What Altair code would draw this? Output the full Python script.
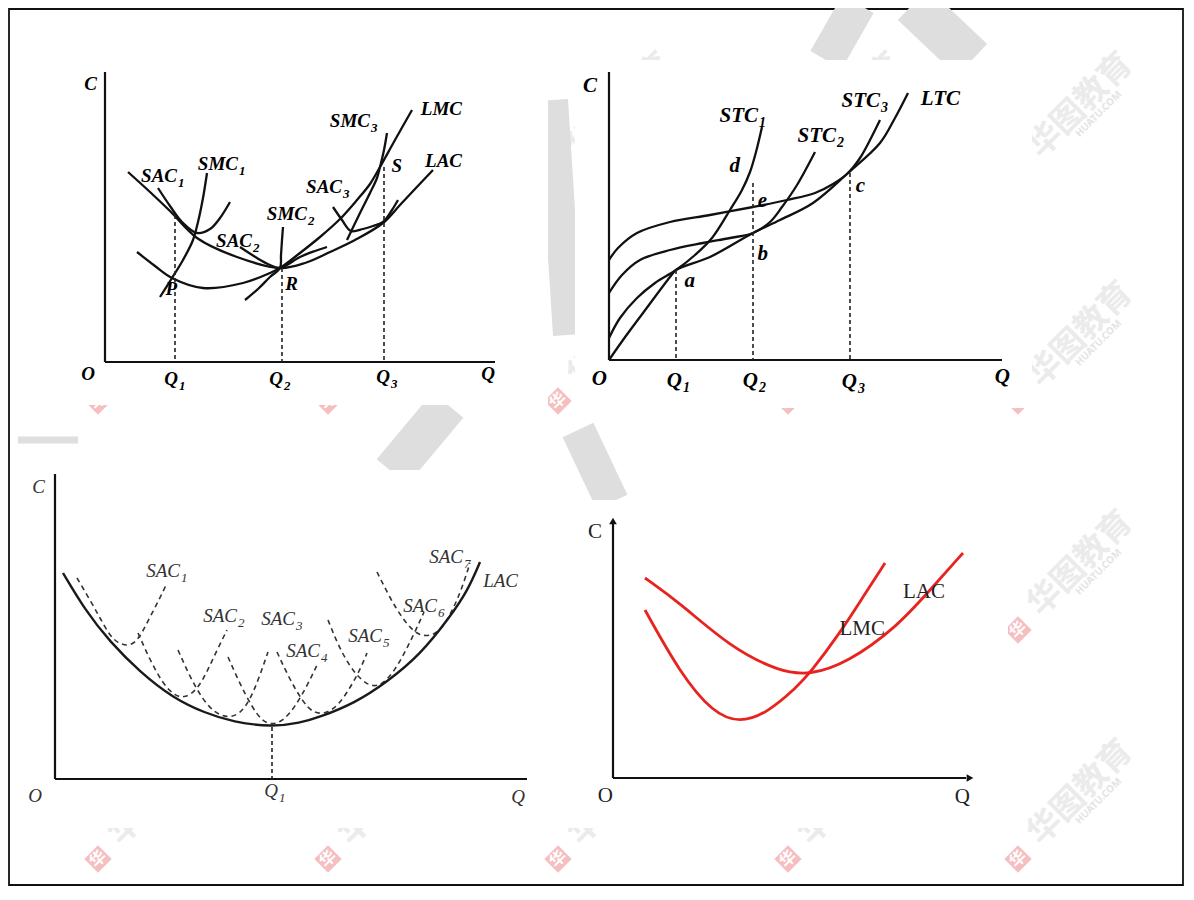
import altair as alt
import pandas as pd

W, H = 1176, 878          # plot area (page margin 8px) -> data units equal screen pixels
XD = [8, 8 + W]
YD = [8, 8 + H]

# ---------------- Panel 1 : LAC / LMC with SAC / SMC ----------------
p1_lac_x = [128, 150, 170, 197, 237, 280, 305, 330, 355, 383, 400, 415, 433]
p1_lac_y = [172, 192, 211, 238, 257, 268, 263, 252, 240, 223, 205, 189, 170]
p1_lmc_x = [137, 155, 172, 203, 243, 270, 280, 300, 320, 340, 357, 370, 380, 395, 412]
p1_lmc_y = [252, 266, 278, 288, 283, 273, 268, 253, 237, 219, 200, 184, 167, 140, 110]
p1_sac1_x = [158, 170, 182, 197, 210, 220, 230]
p1_sac1_y = [188, 206, 222, 233, 229, 218, 202]
p1_smc1_x = [160, 172, 183, 193, 198, 203, 207]
p1_smc1_y = [297, 278, 260, 240, 222, 198, 173]
p1_sac2_x = [240, 257, 270, 280, 300, 315, 327]
p1_sac2_y = [247, 258, 265, 268, 257, 251, 247]
p1_smc2_x = [245, 258, 270, 280, 281, 282, 283]
p1_smc2_y = [300, 289, 277, 268, 255, 240, 227]
p1_sac3_x = [333, 342, 351, 363, 373, 383, 392, 398]
p1_sac3_y = [207, 220, 231, 229, 226, 222, 210, 200]
p1_smc3_x = [347, 360, 370, 377, 380, 384, 387]
p1_smc3_y = [240, 213, 193, 178, 167, 150, 133]

# ---------------- Panel 2 : LTC with STC ----------------
p2_ltc_x = [609, 623, 643, 670, 676, 710, 753, 780, 813, 848, 880, 895, 908]
p2_ltc_y = [360, 340, 313, 277, 270, 257, 233, 220, 203, 173, 143, 118, 93]
p2_stc1_x = [609, 620, 637, 655, 676, 695, 712, 730, 742, 750, 756, 762]
p2_stc1_y = [338, 318, 298, 283, 270, 255, 238, 210, 190, 172, 152, 127]
p2_stc2_x = [609, 622, 640, 670, 703, 730, 753, 770, 782, 797, 815]
p2_stc2_y = [293, 275, 260, 250, 243, 238, 233, 222, 207, 185, 152]
p2_stc3_x = [609, 618, 637, 670, 710, 753, 787, 815, 833, 848, 860, 870, 880]
p2_stc3_y = [260, 248, 233, 222, 215, 207, 200, 193, 184, 173, 158, 140, 120]

# ---------------- Panel 3 : LAC envelope of SAC1..SAC7 ----------------
p3_lac_x = [63, 85, 110, 140, 173, 205, 233, 272, 300, 320, 355, 387, 420, 450, 468, 480]
p3_lac_y = [573, 610, 642, 672, 698, 713, 722, 727, 723, 717, 703, 682, 655, 617, 590, 562]
p3_sac1_x = [77, 90, 100, 110, 118, 127, 135, 142, 150, 160, 167]
p3_sac1_y = [578, 600, 618, 636, 643, 646, 643, 633, 617, 598, 583]
p3_sac2_x = [138, 150, 163, 175, 185, 197, 207, 217, 227]
p3_sac2_y = [633, 660, 684, 696, 698, 690, 672, 650, 630]
p3_sac3_x = [178, 190, 203, 215, 228, 240, 250, 259, 268]
p3_sac3_y = [650, 677, 700, 713, 718, 714, 700, 678, 652]
p3_sac4_x = [228, 240, 252, 262, 272, 283, 295, 307, 318]
p3_sac4_y = [657, 684, 707, 721, 725, 721, 707, 686, 663]
p3_sac5_x = [277, 290, 303, 313, 325, 338, 350, 360, 367]
p3_sac5_y = [652, 680, 702, 713, 714, 706, 688, 670, 653]
p3_sac6_x = [328, 338, 350, 362, 373, 383, 395, 405, 415, 424]
p3_sac6_y = [620, 645, 667, 681, 687, 684, 670, 652, 632, 612]
p3_sac7_x = [377, 390, 402, 417, 433, 443, 451, 458, 464, 470]
p3_sac7_y = [572, 598, 618, 636, 636, 627, 613, 598, 582, 563]

# ---------------- Panel 4 : LAC and LMC (red) ----------------
p4_lac_x = [645, 680, 730, 780, 810, 847, 897, 930, 963]
p4_lac_y = [578, 603, 647, 672, 675, 663, 627, 590, 553]
p4_lmc_x = [645, 680, 713, 740, 767, 797, 810, 840, 863, 885]
p4_lmc_y = [610, 673, 713, 723, 713, 687, 673, 633, 597, 563]

# ---------------- axes and guide lines ----------------
axis_x1 = [105, 105, 609, 609, 55, 55, 613, 613]
axis_y1 = [72, 362, 72, 360, 474, 779, 524, 778]
axis_x2 = [105, 495, 609, 1002, 55, 527, 613, 966]
axis_y2 = [362, 362, 360, 360, 779, 779, 778, 778]

guide_x = [175, 282, 384, 676, 753, 850, 272]
guide_y1 = [215, 268, 167, 270, 183, 173, 727]
guide_y2 = [362, 362, 362, 360, 360, 360, 779]

arrow_x = [613, 970]
arrow_y = [521, 778]
arrow_shape = ["triangle-up", "triangle-right"]

# ---------------- labels ----------------
l1_main = ["C", "SAC", "SMC", "SAC", "SMC", "SAC", "SMC", "LMC", "S", "LAC", "P", "R", "O", "Q", "Q", "Q", "Q"]
l1_sub = ["", "1", "1", "2", "2", "3", "3", "", "", "", "", "", "", "1", "2", "3", ""]
l1_x = [97, 177, 238, 252, 307, 342, 370, 462, 402, 462, 177, 298, 95, 178, 283, 390, 495]
l1_y = [90, 182, 170, 247, 220, 193, 127, 115, 172, 167, 295, 290, 380, 385, 385, 383, 380]

l2_main = ["C", "STC", "STC", "STC", "LTC", "d", "e", "b", "a", "c", "O", "Q", "Q", "Q", "Q"]
l2_sub = ["", "1", "2", "3", "", "", "", "", "", "", "", "1", "2", "3", ""]
l2_x = [597, 758, 836, 880, 960, 740, 767, 768, 695, 865, 607, 682, 758, 857, 1010]
l2_y = [92, 122, 142, 107, 105, 172, 207, 260, 287, 192, 385, 387, 387, 388, 383]

l3_main = ["C", "SAC", "SAC", "SAC", "SAC", "SAC", "SAC", "SAC", "LAC", "O", "Q", "Q"]
l3_sub = ["", "1", "2", "3", "4", "5", "6", "7", "", "", "1", ""]
l3_x = [45, 180, 237, 295, 320, 382, 437, 463, 518, 42, 278, 525]
l3_y = [493, 577, 622, 625, 657, 642, 612, 563, 587, 802, 797, 803]

l4_main = ["C", "O", "Q", "LAC", "LMC"]
l4_x = [602, 613, 970, 945, 885]
l4_y = [538, 802, 803, 598, 635]

# ---------------- background watermark (logo tiles and big grey strokes) ----------------
wm_cols = [98, 328, 558, 788, 1018]
wm_rows = [172, 401, 630, 859]
wm_text = "华图教育"
grey_id = ["g1", "g1", "g2", "g2", "g3", "g3", "g3", "g4", "g4", "g5", "g5", "g6", "g6"]
grey_x = [826, 858, 913, 972, 553, 560, 568, 392, 448, 578, 612, 18, 78]
grey_y = [60, 4, 4, 60, 100, 210, 335, 472, 405, 430, 502, 440, 440]
grey_w = [36, 36, 44, 44, 30, 30, 30, 40, 40, 34, 34, 7, 7]
# white areas of the four pasted figures (they hide the watermark)
pane_x1 = [15, 575, 15, 575]
pane_x2 = [548, 1032, 575, 1008]
pane_y1 = [40, 60, 470, 500]
pane_y2 = [405, 408, 828, 828]


def curves(named):
    rows = []
    for name, xs, ys in named:
        for i, (x, y) in enumerate(zip(xs, ys)):
            rows.append({"curve": name, "i": i, "x": x, "y": y})
    return pd.DataFrame(rows)


black_curves = curves([
    ("p1_LAC", p1_lac_x, p1_lac_y), ("p1_LMC", p1_lmc_x, p1_lmc_y),
    ("p1_SAC1", p1_sac1_x, p1_sac1_y), ("p1_SMC1", p1_smc1_x, p1_smc1_y),
    ("p1_SAC2", p1_sac2_x, p1_sac2_y), ("p1_SMC2", p1_smc2_x, p1_smc2_y),
    ("p1_SAC3", p1_sac3_x, p1_sac3_y), ("p1_SMC3", p1_smc3_x, p1_smc3_y),
    ("p2_LTC", p2_ltc_x, p2_ltc_y), ("p2_STC1", p2_stc1_x, p2_stc1_y),
    ("p2_STC2", p2_stc2_x, p2_stc2_y), ("p2_STC3", p2_stc3_x, p2_stc3_y),
])
p3_solid = curves([("p3_LAC", p3_lac_x, p3_lac_y)])
p3_dashed = curves([
    ("SAC1", p3_sac1_x, p3_sac1_y), ("SAC2", p3_sac2_x, p3_sac2_y),
    ("SAC3", p3_sac3_x, p3_sac3_y), ("SAC4", p3_sac4_x, p3_sac4_y),
    ("SAC5", p3_sac5_x, p3_sac5_y), ("SAC6", p3_sac6_x, p3_sac6_y),
    ("SAC7", p3_sac7_x, p3_sac7_y),
])
red_curves = curves([("LAC", p4_lac_x, p4_lac_y), ("LMC", p4_lmc_x, p4_lmc_y)])

axes_df = pd.DataFrame({"x": axis_x1, "y": axis_y1, "x2": axis_x2, "y2": axis_y2})
guides_df = pd.DataFrame({"x": guide_x, "y": guide_y1, "y2": guide_y2})
arrows_df = pd.DataFrame({"x": arrow_x, "y": arrow_y, "shape": arrow_shape})
lab1 = pd.DataFrame({"main": l1_main, "sub": l1_sub, "x": l1_x, "y": l1_y})
lab2 = pd.DataFrame({"main": l2_main, "sub": l2_sub, "x": l2_x, "y": l2_y})
lab3 = pd.DataFrame({"main": l3_main, "sub": l3_sub, "x": l3_x, "y": l3_y})
lab4 = pd.DataFrame({"main": l4_main, "x": l4_x, "y": l4_y})
frame_df = pd.DataFrame({"x": [9], "x2": [8 + W - 1], "y": [9], "y2": [8 + H - 1]})
wm_df = pd.DataFrame([{"x": cx, "y": cy, "t": wm_text} for cx in wm_cols for cy in wm_rows])
grey_df = pd.DataFrame({"id": grey_id, "x": grey_x, "y": grey_y, "w": grey_w})
grey_df["i"] = range(len(grey_df))
panes_df = pd.DataFrame({"x": pane_x1, "x2": pane_x2, "y": pane_y1, "y2": pane_y2})

X = alt.X("x:Q", scale=alt.Scale(domain=XD, nice=False, zero=False), axis=None)
Y = alt.Y("y:Q", scale=alt.Scale(domain=YD, nice=False, zero=False, reverse=True), axis=None)

SERIF = "Liberation Serif"

layers = []
layers.append(alt.Chart(frame_df).mark_rect(fill="white", stroke="#111", strokeWidth=1.8).encode(
    x=X, x2="x2:Q", y=Y, y2="y2:Q"))

# watermark tiles (dx/dy act along the rotated text direction)
layers.append(alt.Chart(wm_df).mark_text(font="Noto Sans CJK SC", fontSize=33, fontWeight="bold",
                                         angle=315, color="#ebebeb", dx=91, dy=-3).encode(
    x=X, y=Y, text="t:N"))
layers.append(alt.Chart(wm_df).mark_text(font="Noto Sans", fontSize=10, fontWeight="bold",
                                         angle=315, color="#e4e4e4", dx=98, dy=16).encode(
    x=X, y=Y, text=alt.value("HUATU.COM")))
layers.append(alt.Chart(wm_df).mark_point(shape="diamond", filled=True, color="#f5bfc2",
                                          size=750, opacity=1).encode(x=X, y=Y))
layers.append(alt.Chart(wm_df).mark_text(font="Noto Sans CJK SC", fontSize=16, fontWeight="bold",
                                         angle=315, color="white").encode(
    x=X, y=Y, text=alt.value("华")))
layers.append(alt.Chart(grey_df).mark_line(color="#dedede", strokeCap="butt", interpolate="monotone",
                                           clip=True).encode(
    x=X, y=Y, detail="id:N", order="i:Q", strokeWidth=alt.StrokeWidth("w:Q", scale=None, legend=None)))
layers.append(alt.Chart(panes_df).mark_rect(fill="white").encode(x=X, x2="x2:Q", y=Y, y2="y2:Q"))


def line_layer(df, interp, **kw):
    return alt.Chart(df).mark_line(interpolate=interp, **kw).encode(
        x=X, y=Y, detail="curve:N", order="i:Q")


layers.append(line_layer(black_curves, "catmull-rom", color="#111", strokeWidth=2.3))
layers.append(line_layer(p3_dashed, "basis", color="#333", strokeWidth=1.6, strokeDash=[5, 4]))
layers.append(line_layer(p3_solid, "basis", color="#1a1a1a", strokeWidth=2.4))
layers.append(line_layer(red_curves, "basis", color="#e8231f", strokeWidth=2.8))

layers.append(alt.Chart(axes_df).mark_rule(color="#111", strokeWidth=2.2).encode(
    x=X, y=Y, x2="x2:Q", y2="y2:Q"))
layers.append(alt.Chart(guides_df).mark_rule(color="#222", strokeWidth=1.6, strokeDash=[4, 3]).encode(
    x=X, y=Y, y2="y2:Q"))
layers.append(alt.Chart(arrows_df).mark_point(filled=True, color="#111", size=60, opacity=1).encode(
    x=X, y=Y, shape=alt.Shape("shape:N", scale=None, legend=None)))


def label_layers(df, size, sub_size, color, weight="normal", dy=5):
    main = alt.Chart(df).mark_text(align="right", baseline="alphabetic", font=SERIF, fontSize=size,
                                   fontStyle="italic", fontWeight=weight, color=color).encode(
        x=X, y=Y, text="main:N")
    sub = alt.Chart(df).mark_text(align="left", baseline="alphabetic", font=SERIF, fontSize=sub_size,
                                  fontStyle="italic", fontWeight=weight, color=color, dx=1, dy=dy).encode(
        x=X, y=Y, text="sub:N")
    return [main, sub]


layers += label_layers(lab1, 19, 13, "#000", weight="bold")
layers += label_layers(lab2, 21, 14, "#000", weight="bold")
layers += label_layers(lab3, 19, 13, "#333")
layers.append(alt.Chart(lab4).mark_text(align="right", baseline="alphabetic", font=SERIF, fontSize=21,
                                        color="#222").encode(x=X, y=Y, text="main:N"))

chart = alt.layer(*layers).properties(
    width=W, height=H, padding=0,
    autosize=alt.AutoSizeParams(type="none"),
    background="white",
).configure_view(stroke=None)

chart.save("out.html", embed_options={"renderer": "svg", "actions": False})
